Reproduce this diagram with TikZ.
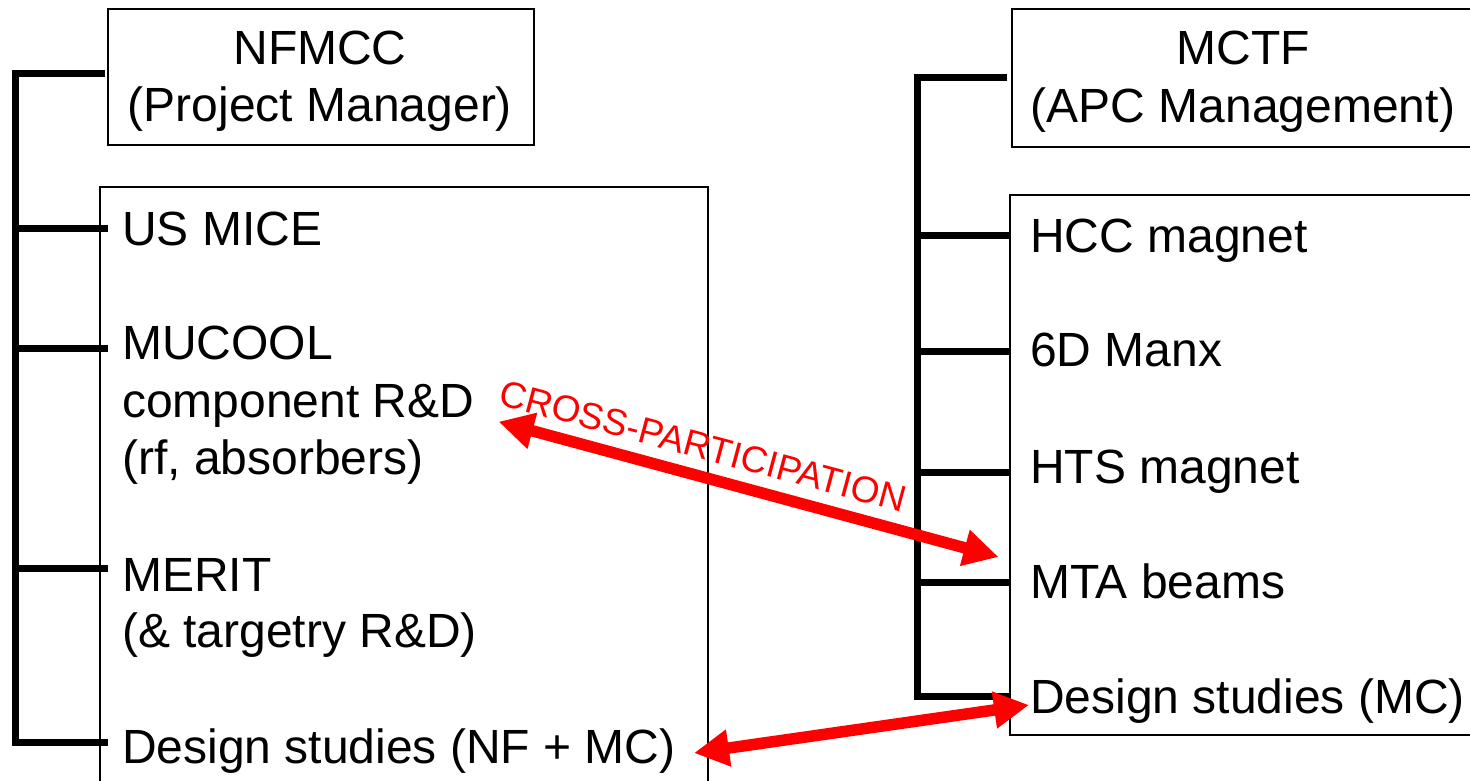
\documentclass[tikz,border=0pt]{standalone}
\usepackage{fontspec}
\setmainfont{Liberation Sans}
\usetikzlibrary{arrows.meta}
\begin{document}
\begin{tikzpicture}[x=1pt,y=-1pt,
  spine/.style={line width=7pt, line join=miter},
  twig/.style={line width=7pt},
  box/.style={draw, line width=1.6pt, inner sep=0pt, anchor=north west},
  txt/.style={anchor=base west, inner sep=0pt, font=\fontsize{48}{57}\selectfont},
  ctxt/.style={anchor=base, inner sep=0pt, font=\fontsize{48}{57}\selectfont},
  xarrow/.style={draw=red, line width=11.5pt,
    {Triangle[length=35pt,width=35pt,fill=red]}-{Triangle[length=35pt,width=35pt,fill=red]}},
  xlabel/.style={text=red, inner sep=0pt, font=\fontsize{37}{40}\selectfont}]
\useasboundingbox (0,0) rectangle (1470,781);

% ---------- boxes ----------
\node[box, minimum width=426pt, minimum height=136pt] (nfmccbox) at (107,8) {};
\node[box, minimum width=608pt, minimum height=620pt] (leftbox) at (99,186) {};
\node[box, minimum width=466pt, minimum height=138pt] (mctfbox) at (1011,8) {};
\node[box, minimum width=468pt, minimum height=540pt] (rightbox) at (1009,194) {};

% ---------- left texts ----------
\node[ctxt] (nfmcc) at (320,65) {NFMCC};
\node[ctxt] (pm) at (320,122) {(Project Manager)};
\node[txt] (usmice) at (122,245) {US MICE};
\node[txt] (mucoola) at (122,359) {MUCOOL};
\node[txt] (mucoolb) at (122,417) {component R\&D};
\node[txt] (mucoolc) at (122,474) {(rf, absorbers)};
\node[txt] (merita) at (122,591) {MERIT};
\node[txt] (meritb) at (122,647) {(\& targetry R\&D)};
\node[txt] (dsl) at (122,763) {Design studies (NF + MC)};

% ---------- right texts ----------
\node[ctxt] (mctf) at (1243,65) {MCTF};
\node[ctxt] (apc) at (1243,123) {(APC Management)};
\node[txt] (hcc) at (1030,252) {HCC magnet};
\node[txt] (manx) at (1030,366) {6D Manx};
\node[txt] (hts) at (1030,483) {HTS magnet};
\node[txt] (mta) at (1030,598) {MTA beams};
\node[txt] (dsr) at (1030,713) {Design studies (MC)};

% ---------- left tree ----------
\coordinate (lt) at (105,74);
\coordinate (lb) at (108,742);
\draw[spine] (lt) -| (15,742) -- (lb);
\foreach \yy in {228,348,568} \draw[twig] (15,\yy) -- (108,\yy);

% ---------- right tree ----------
\coordinate (rt) at (1007,78);
\coordinate (rb) at (1011,696);
\draw[spine] (rt) -| (917,696) -- (rb);
\foreach \yy in {235,351,472,582} \draw[twig] (917,\yy) -- (1011,\yy);

% ---------- cross participation arrows ----------
\coordinate (a1l) at (498.6,421.7);
\coordinate (a1r) at (998.6,557);
\coordinate (a2l) at (694,753);
\coordinate (a2r) at (1029,705);
\draw[xarrow] (a1l) -- (a1r);
\draw[xarrow] (a2l) -- (a2r);
\node[xlabel, rotate=-15] (cp) at (703,446) {CROSS-PARTICIPATION};
\end{tikzpicture}
\end{document}
